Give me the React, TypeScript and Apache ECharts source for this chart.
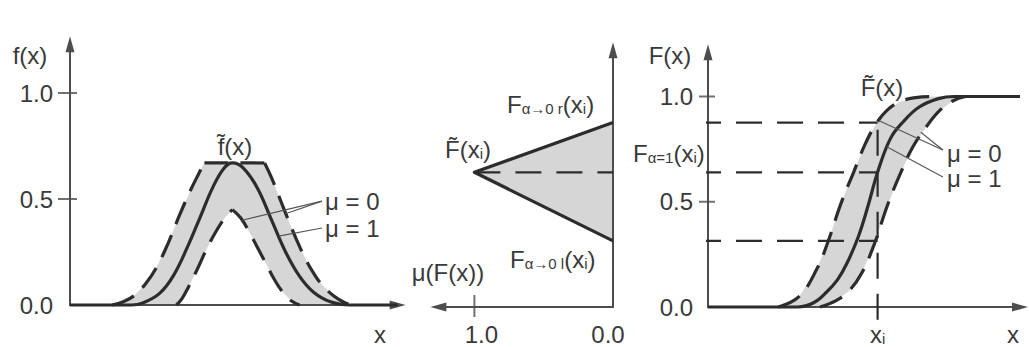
import React, { useEffect, useRef } from "react";
import * as echarts from "echarts";

// ---------- left panel: density f(x) ----------
const fTicks = [0, 0.5, 1.0];
// membership 1 (solid bell)
const fSolidX = [0, 22, 26, 32, 37, 42, 46.5, 51, 55, 58, 62, 67, 72, 77, 82, 87, 93, 100, 117];
const fSolidY = [0, 0, 0.01, 0.055, 0.14, 0.275, 0.415, 0.555, 0.645, 0.67, 0.645, 0.55, 0.4, 0.25, 0.135, 0.06, 0.015, 0, 0];
// membership 0, outer envelope
const fOuterRiseX = [15, 19, 23, 27, 31, 35, 39, 43, 46, 48];
const fOuterRiseY = [0, 0.015, 0.045, 0.1, 0.18, 0.29, 0.42, 0.54, 0.62, 0.67];
const fOuterTopX = [48, 69.5];
const fOuterTopY = [0.67, 0.67];
const fOuterFallX = [69.5, 72, 75, 78, 81, 84, 87, 90, 94, 98, 101];
const fOuterFallY = [0.67, 0.6, 0.5, 0.4, 0.305, 0.22, 0.15, 0.095, 0.045, 0.012, 0];
// membership 0, inner envelope
const fInnerRiseX = [38, 40, 42.5, 45.5, 49, 52.5, 55.5, 58];
const fInnerRiseY = [0, 0.03, 0.09, 0.17, 0.27, 0.355, 0.415, 0.45];
const fInnerFallX = [58, 61, 64, 67, 70, 73, 76, 79, 82];
const fInnerFallY = [0.45, 0.41, 0.345, 0.27, 0.195, 0.12, 0.06, 0.02, 0];

// ---------- middle panel: membership of F(x_i) ----------
const muTicks = [0, 1];
const F_UP = 0.876; // F_{α→0 r}(x_i)
const F_MID = 0.64; // F_{α=1}(x_i)
const F_LOW = 0.314; // F_{α→0 l}(x_i)

// ---------- right panel: distribution F(x) ----------
const FTicks = [0, 0.5, 1.0];
const XI = 53;
const FSolidX = [0, 28, 33, 37, 40.5, 43.5, 47, 50, 53, 57, 61, 66, 72, 77, 97.5];
const FSolidY = [0, 0, 0.02, 0.07, 0.13, 0.21, 0.335, 0.48, 0.64, 0.8, 0.88, 0.95, 0.99, 1.0, 1.0];
const FUpperX = [22, 28.5, 34, 37.5, 41.5, 45.5, 49, 52.5, 56, 60, 65, 70];
const FUpperY = [0, 0.05, 0.18, 0.31, 0.49, 0.64, 0.77, 0.87, 0.935, 0.975, 0.995, 1.0];
const FLowerX = [35, 40, 44, 48, 52, 56, 60, 64, 68.4, 72.5, 76.6, 80.5];
const FLowerY = [0, 0.03, 0.075, 0.16, 0.3, 0.48, 0.63, 0.76, 0.86, 0.935, 0.98, 1.0];

// leader lines from the μ labels to the curves
const fLeaders = [
  [[90, 0.49], [61.5, 0.4]],
  [[90, 0.49], [77, 0.43]],
  [[90, 0.363], [74.5, 0.325]],
];
const FLeaders = [
  [[73.4, 0.746], [53.5, 0.885]],
  [[73.4, 0.746], [66.5, 0.83]],
  [[73.4, 0.618], [56, 0.76]],
];

// ---------- layout ----------
const LEFT = { left: 70, top: 44.24, width: 327.6, height: 260.76, xMax: 117, yMax: 1.23 };
const MID = { left: 438.36, top: 50.19, width: 174.64, height: 256.81, xMax: 1.26, yMax: 1.22 };
const RIGHT = { left: 708, top: 52.3, width: 312, height: 254.7, xMax: 97.5, yMax: 1.21 };
// right-panel x value sitting under the middle panel's vertical axis
const uAtMidAxis = ((MID.left + MID.width - RIGHT.left) / RIGHT.width) * RIGHT.xMax;

const FONT = "'Liberation Sans', Arial, Helvetica, sans-serif";
const INK = "#3a3a3a";
const LINE = "#2c2c2c";
const AXIS = "#4d4d4d";
const GREY = "#d6d6d6";
const DASH = [24, 12];
const HDASH = [26, 15];

const zip = (xs: number[], ys: number[]) => xs.map((x, i) => [x, ys[i]]);

function curve(g: number, data: number[][], dashed: boolean, width = 3.2, smooth = true, dash = DASH) {
  return {
    type: "line",
    xAxisIndex: g,
    yAxisIndex: g,
    data,
    smooth: smooth ? 0.4 : false,
    symbol: "none",
    clip: false,
    silent: true,
    z: 3,
    lineStyle: { color: LINE, width, type: dashed ? dash : "solid", cap: "butt", join: "round" },
  };
}

function fill(g: number, pts: number[][], color: string) {
  return {
    type: "custom",
    xAxisIndex: g,
    yAxisIndex: g,
    data: [[0, 0]],
    silent: true,
    z: 1,
    renderItem: (_p: any, api: any) => ({
      type: "polygon",
      shape: { points: pts.map((p) => api.coord(p)) },
      style: { fill: color },
    }),
  };
}

function ticks(g: number, data: number[][], size: number[], offset: number[]) {
  return {
    type: "scatter",
    xAxisIndex: g,
    yAxisIndex: g,
    data,
    symbol: "rect",
    symbolSize: size,
    symbolOffset: offset,
    itemStyle: { color: AXIS },
    silent: true,
    clip: false,
    z: 4,
  };
}

const richStyles = {
  m: { fontSize: 24, fontFamily: FONT, fill: INK, color: INK, lineHeight: 24, verticalAlign: "middle" },
  s: { fontSize: 15, fontFamily: FONT, fill: INK, color: INK, lineHeight: 8, verticalAlign: "bottom" },
};

// μ-axis labels sit a little inward of their ticks
const muLabelRich = {
  hi: { fontSize: 24, fontFamily: FONT, color: INK, padding: [0, 0, 0, 14] },
  lo: { fontSize: 24, fontFamily: FONT, color: INK, padding: [0, 10, 0, 0] },
};

function label(text: string, x: number, y: number, align = "center") {
  return {
    type: "text",
    x,
    y,
    silent: true,
    z: 10,
    style: { text, rich: richStyles, align, verticalAlign: "middle" },
  };
}

const arrowLine = (sym: string[]) => ({
  show: true,
  symbol: sym,
  symbolSize: [9, 16],
  lineStyle: { color: AXIS, width: 2 },
});

const tickLabel = (margin: number, values: number[]) => ({
  show: true,
  customValues: values,
  margin,
  color: INK,
  fontSize: 24,
  fontFamily: FONT,
  formatter: (v: number) => v.toFixed(1),
});

function buildOption() {
  const fOuter = zip(fOuterRiseX, fOuterRiseY)
    .concat(zip(fOuterTopX, fOuterTopY).slice(1))
    .concat(zip(fOuterFallX, fOuterFallY).slice(1));
  const fInner = zip(fInnerRiseX, fInnerRiseY).concat(zip(fInnerFallX, fInnerFallY).slice(1));
  const fBand = fOuter.concat(fInner.slice().reverse());
  const FBand = zip(FUpperX, FUpperY).concat(zip(FLowerX, FLowerY).reverse());
  const triangle = [[1, F_MID], [0, F_UP], [0, F_LOW]];

  return {
    animation: false,
    backgroundColor: "#ffffff",
    grid: [
      { left: LEFT.left, top: LEFT.top, width: LEFT.width, height: LEFT.height },
      { left: MID.left, top: MID.top, width: MID.width, height: MID.height },
      { left: RIGHT.left, top: RIGHT.top, width: RIGHT.width, height: RIGHT.height },
    ],
    xAxis: [
      {
        type: "value", gridIndex: 0, min: 0, max: LEFT.xMax, z: 2,
        axisLine: arrowLine(["none", "triangle"]),
        axisTick: { show: false }, axisLabel: { show: false }, splitLine: { show: false },
      },
      {
        type: "value", gridIndex: 1, min: 0, max: MID.xMax, inverse: true, z: 2,
        axisLine: arrowLine(["triangle", "none"]),
        axisTick: { show: false },
        axisLabel: {
          show: true,
          customValues: muTicks,
          margin: 15,
          formatter: (v: number) => (v > 0 ? `{hi|${v.toFixed(1)}}` : `{lo|${v.toFixed(1)}}`),
          rich: muLabelRich,
        },
        splitLine: { show: false },
      },
      {
        type: "value", gridIndex: 2, min: 0, max: RIGHT.xMax, z: 2,
        axisLine: arrowLine(["none", "triangle"]),
        axisTick: { show: false },
        axisLabel: {
          show: true,
          customValues: [XI],
          margin: 15,
          formatter: () => "{m|x}{s|i}",
          rich: richStyles,
        },
        splitLine: { show: false },
      },
    ],
    yAxis: [
      {
        type: "value", gridIndex: 0, min: 0, max: LEFT.yMax, position: "left", z: 2,
        axisLine: arrowLine(["none", "triangle"]),
        axisTick: { show: false }, axisLabel: tickLabel(17, fTicks), splitLine: { show: false },
      },
      {
        type: "value", gridIndex: 1, min: 0, max: MID.yMax, position: "right", z: 2,
        axisLine: arrowLine(["none", "triangle"]),
        axisTick: { show: false }, axisLabel: { show: false }, splitLine: { show: false },
      },
      {
        type: "value", gridIndex: 2, min: 0, max: RIGHT.yMax, position: "left", z: 2,
        axisLine: arrowLine(["none", "triangle"]),
        axisTick: { show: false }, axisLabel: tickLabel(15, FTicks), splitLine: { show: false },
      },
    ],
    series: [
      // shaded bands
      fill(0, fBand, GREY),
      fill(1, triangle, GREY),
      fill(2, FBand, GREY),

      // left panel curves
      curve(0, zip(fSolidX, fSolidY), false),
      curve(0, zip(fOuterRiseX, fOuterRiseY), true),
      curve(0, zip(fOuterTopX, fOuterTopY), true, 3.2, false),
      curve(0, zip(fOuterFallX, fOuterFallY), true),
      curve(0, zip(fInnerRiseX, fInnerRiseY), true),
      curve(0, zip(fInnerFallX, fInnerFallY), true),
      ...fLeaders.map((d) => ({ ...curve(0, d, false, 1.1, false), lineStyle: { color: "#555", width: 1.1 } })),

      // middle panel: triangle edges and F_{α=1} level
      curve(1, [[0, F_UP], [1, F_MID], [0, F_LOW]], false, 3.2, false),
      curve(1, [[1, F_MID], [0, F_MID]], true, 2.2, false, HDASH),

      // right panel curves
      curve(2, zip(FSolidX, FSolidY), false),
      curve(2, zip(FUpperX, FUpperY), true),
      curve(2, zip(FLowerX, FLowerY), true),
      ...FLeaders.map((d) => ({ ...curve(2, d, false, 1.1, false), lineStyle: { color: "#555", width: 1.1 } })),

      // level lines carried over to x_i
      curve(2, [[uAtMidAxis, F_UP], [XI, F_UP]], true, 2.2, false, HDASH),
      curve(2, [[uAtMidAxis, F_MID], [XI, F_MID]], true, 2.2, false, HDASH),
      curve(2, [[uAtMidAxis, F_LOW], [XI, F_LOW]], true, 2.2, false, HDASH),
      curve(2, [[XI, -0.06], [XI, F_UP]], true, 2.2, false, HDASH),

      // crossing tick marks
      ticks(0, [[0, 0.5], [0, 1.0]], [19, 2], [-2.5, 0]),
      ticks(1, [[1, 0]], [2, 22], [0, -1]),
      ticks(2, [[0, 0.5], [0, 1.0]], [16, 2], [-1, 0]),
    ],
    graphic: [
      label("{m|f(x)}", 30, 55),
      label("{m|f\u0303(x)}", 235, 146),
      label("{m|μ = 0}", 325, 201, "left"),
      label("{m|μ = 1}", 325, 228, "left"),
      label("{m|x}", 380, 334),

      label("{m|F\u0303(x}{s|i}{m|)}", 468, 149),
      label("{m|F}{s|α→0 r}{m|(x}{s|i}{m|)}", 507, 104, "left"),
      label("{m|F}{s|α=1}{m|(x}{s|i}{m|)}", 633, 153, "left"),
      label("{m|F}{s|α→0 l}{m|(x}{s|i}{m|)}", 510, 259, "left"),
      label("{m|μ(F(x))}", 448, 272),

      label("{m|F(x)}", 670, 55),
      label("{m|F\u0303(x)}", 882, 87),
      label("{m|μ = 0}", 947, 153, "left"),
      label("{m|μ = 1}", 947, 178, "left"),
      label("{m|x}", 1013, 334),
    ],
  };
}

export default function App() {
  const ref = useRef<HTMLDivElement>(null);
  useEffect(() => {
    if (!ref.current) return;
    const chart = echarts.init(ref.current, null, { renderer: "svg" });
    chart.setOption(buildOption() as any);
    return () => chart.dispose();
  }, []);
  return (
    <div
      ref={ref}
      style={{ position: "fixed", left: 0, top: 0, width: 1029, height: 347, background: "#fff" }}
    />
  );
}
